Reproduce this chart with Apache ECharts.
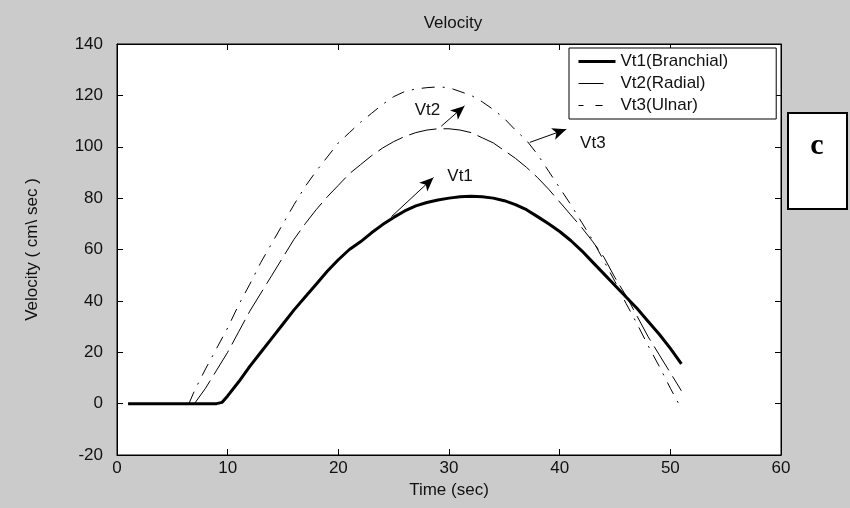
<!DOCTYPE html>
<html>
<head>
<meta charset="utf-8">
<script src="https://cdn.jsdelivr.net/npm/echarts@6/dist/echarts.min.js"></script>
<style>
  html, body { margin: 0; padding: 0; background: #cbcbcb; }
  #chart { width: 850px; height: 508px; }
</style>
</head>
<body>
<div id="chart"></div>
<script>
// Vt1 (Branchial) - thick solid line
const time1 = [1, 2, 3, 4, 5, 6, 7, 8, 9, 9.5, 10, 11, 12, 13, 14, 15, 16, 17, 18, 19, 20,
  21, 22, 23, 24, 25, 26, 27, 28, 29, 30, 31, 32, 33, 34, 35, 36, 37, 38, 39, 40,
  41, 42, 43, 44, 45, 46, 47, 48, 49, 50, 51];
const vt1 = [0, 0, 0, 0, 0, 0, 0, 0, 0, 0.5, 3, 8.5, 14.5, 20, 25.5, 31, 36.5, 41.5, 46.5, 51.5, 56,
  60, 63, 66.5, 69.7, 72.5, 75, 77, 78.3, 79.3, 80, 80.5, 80.7, 80.5, 80, 79, 77.5, 75.5, 72.8, 70, 67,
  63.5, 59.5, 55, 50.5, 46, 41.5, 37, 32, 27, 21.5, 15.5];

// Vt2 (Radial) - dashed
const time2 = [7, 8, 9, 10, 11, 12, 13, 14, 15, 16, 17, 18, 19, 20, 21, 22, 23, 24, 25, 26,
  27, 28, 29, 30, 31, 32, 33, 34, 35, 36, 37, 38, 39, 40, 41, 42, 43, 44, 45, 46,
  47, 48, 49, 50, 51];
const vt2 = [0, 6, 13, 20, 28, 36, 43, 50, 57, 64, 70, 75.5, 80.5, 85, 89.5, 93, 96.5, 99.5, 102, 104,
  105.5, 106.5, 107, 107, 106.5, 105.5, 103.5, 101.5, 98.5, 95.5, 92, 88, 83.5, 78.5, 73.5, 68.5, 63, 57, 49, 42,
  34, 26, 19, 12, 5];

// Vt3 (Ulnar) - dash-dot
const time3 = [6.5, 7, 8, 9, 10, 11, 12, 13, 14, 15, 16, 17, 18, 19, 20, 21, 22, 23, 24, 25, 26,
  27, 28, 29, 30, 31, 32, 33, 34, 35, 36, 37, 38, 39, 40, 41, 42, 43, 44, 45, 46,
  47, 48, 49, 50, 51];
const vt3 = [0, 5, 13.5, 21.5, 29.5, 38.5, 46.5, 55, 62.5, 70, 77.5, 84.5, 90.5, 96, 101.5, 105.5, 109.5, 113, 116.5, 119.5, 121.5,
  122.5, 123, 123.3, 123, 121.5, 120, 117.5, 114.5, 111, 106.5, 102.5, 97, 90.5, 84, 77.5, 70.5, 63.5, 55.5, 47.5, 39,
  31, 22.5, 14.5, 6, -2];

const seriesNames = ['Vt1(Branchial)', 'Vt2(Radial)', 'Vt3(Ulnar)'];

// annotation arrows (start -> end, in data units) and their labels
const arrowVt1 = [[24.8, 72.8], [28.6, 88]];
const arrowVt2 = [[29.3, 108], [31.4, 115.9]];
const arrowVt3 = [[37.3, 101.7], [40.6, 106.8]];
const labelPos = [['Vt1', 31, 88.3], ['Vt2', 28.05, 114.2], ['Vt3', 43, 101.3]];

const zip = (xs, ys) => xs.map((x, i) => [x, ys[i]]);
const font = 'Liberation Sans';

const chart = echarts.init(document.getElementById('chart'));

const axisCommon = {
  type: 'value',
  axisLine: { show: true, onZero: false, lineStyle: { color: '#000', width: 1 } },
  axisTick: { show: true, inside: true, length: 6, lineStyle: { color: '#000' } },
  splitLine: { show: false }
};

chart.setOption({
  animation: false,
  backgroundColor: '#cbcbcb',
  textStyle: { fontFamily: font },
  title: {
    text: 'Velocity',
    left: 448,
    textAlign: 'center',
    top: 10,
    textStyle: { fontFamily: font, fontSize: 17, fontWeight: 'normal', color: '#111' }
  },
  grid: {
    left: 117, right: 69, top: 44, bottom: 53,
    show: true, backgroundColor: '#fff', borderColor: '#000', borderWidth: 1
  },
  legend: {
    data: [
      { name: seriesNames[0], lineStyle: { width: 3, type: 'solid' } },
      { name: seriesNames[1], lineStyle: { width: 1, type: [25, 30] } },
      { name: seriesNames[2], lineStyle: { width: 1, type: [5, 12, 7, 20] } }
    ],
    orient: 'vertical',
    left: 569,
    top: 48,
    itemWidth: 37,
    itemHeight: 14,
    itemGap: 5,
    padding: [5, 48, 5, 8],
    backgroundColor: '#fff',
    borderColor: '#000',
    borderWidth: 1,
    selectedMode: false,
    itemStyle: { opacity: 0 },
    textStyle: { fontFamily: font, fontSize: 17, color: '#111' }
  },
  xAxis: [
    Object.assign({}, axisCommon, {
      min: 0, max: 60, interval: 10,
      name: 'Time (sec)', nameLocation: 'middle', nameGap: 25,
      nameTextStyle: { fontFamily: font, fontSize: 17, color: '#111' },
      axisLabel: { fontFamily: font, fontSize: 17, color: '#111', margin: 5 }
    }),
    Object.assign({}, axisCommon, {
      position: 'top', min: 0, max: 60, interval: 10,
      axisLabel: { show: false }
    })
  ],
  yAxis: [
    Object.assign({}, axisCommon, {
      min: -20, max: 140, interval: 20,
      name: 'Velocity ( cm\\ sec )', nameLocation: 'middle', nameGap: 76,
      nameTextStyle: { fontFamily: font, fontSize: 17, color: '#111' },
      axisLabel: { fontFamily: font, fontSize: 17, color: '#111', margin: 14 }
    }),
    Object.assign({}, axisCommon, {
      position: 'right', min: -20, max: 140, interval: 20,
      axisLabel: { show: false }
    })
  ],
  series: [
    {
      name: seriesNames[0],
      type: 'line',
      data: zip(time1, vt1),
      symbol: 'none',
      color: '#000',
      lineStyle: { color: '#000', width: 3 },
      z: 2,
      markLine: {
        silent: true,
        symbol: ['none', 'arrow'],
        symbolSize: [9, 14],
        lineStyle: { color: '#000', width: 1, type: 'solid' },
        label: { show: false },
        data: [arrowVt1, arrowVt2, arrowVt3].map(a => [{ coord: a[0] }, { coord: a[1] }])
      },
      markPoint: {
        silent: true,
        symbol: 'circle',
        symbolSize: 1,
        itemStyle: { color: 'rgba(0,0,0,0)' },
        label: { show: true, position: 'inside', fontFamily: font, fontSize: 17, color: '#111', formatter: '{b}' },
        data: labelPos.map(p => ({ name: p[0], coord: [p[1], p[2]] }))
      }
    },
    {
      name: seriesNames[1],
      type: 'line',
      data: zip(time2, vt2),
      symbol: 'none',
      color: '#000',
      lineStyle: { color: '#000', width: 1, type: [28, 7] },
      z: 3
    },
    {
      name: seriesNames[2],
      type: 'line',
      data: zip(time3, vt3),
      symbol: 'none',
      color: '#000',
      lineStyle: { color: '#000', width: 1, type: [13, 8, 2, 8] },
      z: 3
    }
  ],
  graphic: [
    {
      type: 'group',
      children: [
        {
          type: 'rect',
          shape: { x: 788, y: 113, width: 59, height: 96 },
          style: { fill: '#fff', stroke: '#000', lineWidth: 2 }
        },
        {
          type: 'text',
          x: 817, y: 146,
          style: {
            text: 'c', fill: '#000',
            font: 'bold 30px "Liberation Serif"',
            textAlign: 'center', textVerticalAlign: 'middle'
          }
        }
      ]
    }
  ]
});
</script>
</body>
</html>
